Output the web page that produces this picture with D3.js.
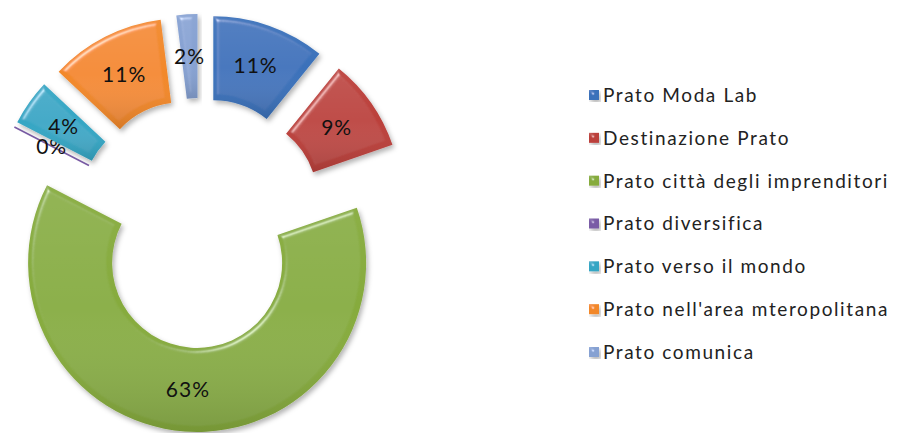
<!DOCTYPE html>
<html>
<head>
<meta charset="utf-8">
<script src="https://cdn.jsdelivr.net/npm/d3@7"></script>
<style>
  html, body { margin: 0; padding: 0; background: #fff; }
  svg { display: block; }
</style>
</head>
<body>
<svg id="chart" width="899" height="433"></svg>
<script>
const categories = [
  "Prato Moda Lab",
  "Destinazione Prato",
  "Prato città degli imprenditori",
  "Prato diversifica",
  "Prato verso il mondo",
  "Prato nell'area mteropolitana",
  "Prato comunica"
];
const values = [10.8, 8.9, 62.9, 0, 4.4, 11.0, 2.0];
const colors = ["#3a71ba", "#bb3f3b", "#86ab3e", "#7a5ca6", "#36a6c4", "#f2882a", "#86a1d2"];

const svg = d3.select("#chart");
const cx = 200, cy = 223, rOuter = 169, rInner = 85, explode = 40;

const defs = svg.append("defs");
const f = defs.append("filter").attr("id", "bevel")
  .attr("x", "-20%").attr("y", "-20%").attr("width", "140%").attr("height", "140%");
f.append("feGaussianBlur").attr("in", "SourceAlpha").attr("stdDeviation", 2.5).attr("result", "blur");
const spec = f.append("feSpecularLighting").attr("in", "blur").attr("surfaceScale", 4)
  .attr("specularConstant", 0.45).attr("specularExponent", 30)
  .attr("lighting-color", "#ffffff").attr("result", "spec");
spec.append("feDistantLight").attr("azimuth", 235).attr("elevation", 40);
f.append("feComposite").attr("in", "spec").attr("in2", "SourceAlpha").attr("operator", "in").attr("result", "specIn");
f.append("feComposite").attr("in", "SourceGraphic").attr("in2", "specIn").attr("operator", "arithmetic")
  .attr("k1", 0).attr("k2", 1).attr("k3", 1).attr("k4", 0).attr("result", "lit");
f.append("feGaussianBlur").attr("in", "SourceAlpha").attr("stdDeviation", 2.5).attr("result", "sblur");
f.append("feOffset").attr("in", "sblur").attr("dx", 2).attr("dy", 3).attr("result", "soff");
f.append("feFlood").attr("flood-color", "#000").attr("flood-opacity", 0.3).attr("result", "sflood");
f.append("feComposite").attr("in", "sflood").attr("in2", "soff").attr("operator", "in").attr("result", "shadow");
const merge = f.append("feMerge");
merge.append("feMergeNode").attr("in", "shadow");
merge.append("feMergeNode").attr("in", "lit");

const grad = defs.append("linearGradient").attr("id", "shade").attr("x1", 0).attr("y1", 0).attr("x2", 0).attr("y2", 1);
grad.append("stop").attr("offset", "0%").attr("stop-color", "#fff").attr("stop-opacity", 0.06);
grad.append("stop").attr("offset", "50%").attr("stop-color", "#fff").attr("stop-opacity", 0);
grad.append("stop").attr("offset", "100%").attr("stop-color", "#000").attr("stop-opacity", 0.12);

const color = d3.scaleOrdinal().domain(categories).range(colors);
const total = d3.sum(values);
const data = categories.map((c, i) => ({ name: c, value: values[i] }));

const pie = d3.pie().value(d => d.value).sort(null).startAngle(0).endAngle(2 * Math.PI);
const arcs = pie(data);
const arc = d3.arc().innerRadius(rInner).outerRadius(rOuter);

const g = svg.append("g").attr("transform", `translate(${cx},${cy})`);

const offsetOf = d => {
  const mid = (d.startAngle + d.endAngle) / 2;
  return [Math.sin(mid) * explode, -Math.cos(mid) * explode];
};

const slices = g.selectAll("g.slice").data(arcs).join("g")
  .attr("class", "slice")
  .attr("transform", d => { const o = offsetOf(d); return `translate(${o[0]},${o[1]})`; });

slices.each(function(d) {
  const s = d3.select(this);
  if (d.value > 0) {
    s.append("path").attr("d", arc(d)).attr("fill", color(d.data.name)).attr("filter", "url(#bevel)");
    s.append("path").attr("d", arc(d)).attr("fill", "url(#shade)");
  } else {
    const a = d.startAngle;
    s.append("line")
      .attr("x1", Math.sin(a) * rInner).attr("y1", -Math.cos(a) * rInner)
      .attr("x2", Math.sin(a) * rOuter).attr("y2", -Math.cos(a) * rOuter)
      .attr("stroke", color(d.data.name)).attr("stroke-width", 1.6);
  }
});

const fmt = v => Math.round(v / total * 100) + "%";
slices.append("text")
  .attr("transform", d => `translate(${arc.centroid(d)})`)
  .attr("text-anchor", "middle")
  .attr("dy", "0.36em")
  .attr("font-family", "Lato, 'Open Sans', sans-serif")
  .attr("font-weight", 400)
  .attr("font-size", 21)
  .attr("letter-spacing", 1)
  .attr("fill", "#111")
  .text(d => fmt(d.value));

// Legend
const legend = svg.append("g").attr("transform", "translate(589,95)");
const rowY = d3.scalePoint().domain(categories).range([0, 257]);
const items = legend.selectAll("g").data(categories).join("g")
  .attr("transform", d => `translate(0,${rowY(d)})`);
items.append("rect").attr("x", 0).attr("y", -5).attr("width", 10).attr("height", 10)
  .attr("fill", d => color(d)).attr("filter", "url(#bevel)");
items.append("text").attr("x", 14).attr("dy", "0.36em")
  .attr("font-family", "Lato, 'Open Sans', sans-serif")
  .attr("font-weight", 400)
  .attr("font-size", 19)
  .attr("letter-spacing", 1.6)
  .attr("fill", "#222")
  .text(d => d);
</script>
</body>
</html>
